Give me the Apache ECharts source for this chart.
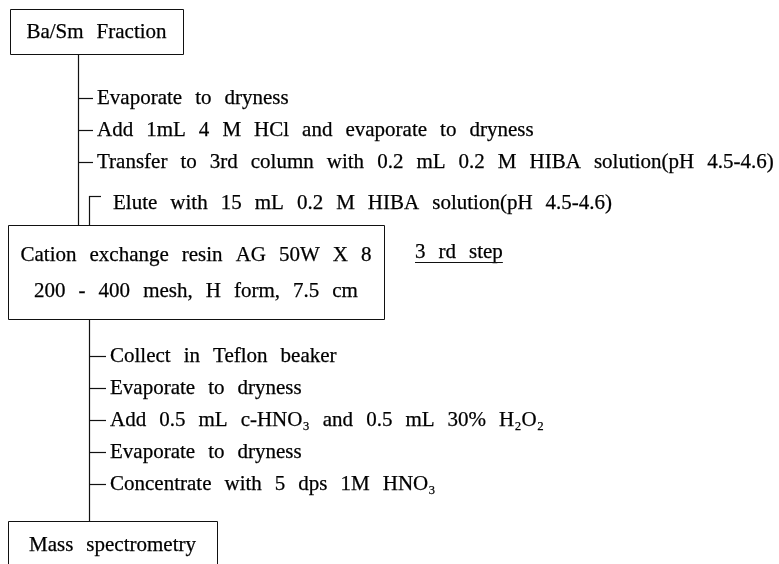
<!DOCTYPE html>
<html><head><meta charset="utf-8">
<script src="https://cdn.jsdelivr.net/npm/echarts@6/dist/echarts.min.js"></script>
<style>html,body{margin:0;padding:0;background:#fff}#c{width:779px;height:564px}</style>
</head><body><div id="c"></div>
<script>
// ---- content ----
const headBox = 'Ba/Sm Fraction';
const firstSteps = [
  'Evaporate to dryness',
  'Add 1mL 4 M HCl and evaporate to dryness',
  'Transfer to 3rd column with 0.2 mL 0.2 M HIBA solution(pH 4.5-4.6)'
];
const eluteStep = 'Elute with 15 mL 0.2 M HIBA solution(pH 4.5-4.6)';
const columnBox = ['Cation exchange resin AG 50W X 8', '200 - 400 mesh, H form, 7.5 cm'];
const stepLabel = '3 rd step';
const secondSteps = [
  'Collect in Teflon beaker',
  'Evaporate to dryness',
  'Add 0.5 mL c-HNO\u2083 and 0.5 mL 30% H\u2082O\u2082',
  'Evaporate to dryness',
  'Concentrate with 5 dps 1M HNO\u2083'
];
const finalBox = 'Mass spectrometry';

// ---- layout (axis units = pixels) ----
const FONT_FAMILY = '"Liberation Serif","Times New Roman","DejaVu Serif",serif';
const FS = 21;
const GAP = 0.62 * FS;
const L = {
  box1: {x0: 10, x1: 183, y0: 9, y1: 54, ty: 32},
  trunk1X: 78,
  steps1Y: [98, 130, 162],
  tick: 15,
  tGap: 4,
  elute: {x: 89, cornerY: 196, y: 203, tx: 113},
  box2: {x0: 8, x1: 384, y0: 225, y1: 319, ty: [255, 291]},
  label: {x: 415, y: 252},
  trunk2X: 89,
  steps2Y: [356, 388, 420, 452, 484],
  box3: {x0: 8, x1: 217, y0: 521, y1: 620, ty: 545}
};

const mctx = document.createElement('canvas').getContext('2d');
function measure(s) { mctx.font = FS + 'px ' + FONT_FAMILY; return mctx.measureText(s).width; }

function textRow(api, text, x, y, align) {
  const words = text.split(' ');
  const ws = words.map(measure);
  const total = ws.reduce((a, b) => a + b, 0) + GAP * (words.length - 1);
  const p = api.coord([x, y]);
  let cx = align === 'center' ? p[0] - total / 2 : p[0];
  const els = [];
  words.forEach((w, i) => {
    els.push({type: 'text', x: cx, y: p[1], style: {text: w, font: FS + 'px ' + FONT_FAMILY, fill: '#000', stroke: '#000', lineWidth: 0.25, align: 'left', verticalAlign: 'middle'}});
    cx += ws[i] + GAP;
  });
  return {els, total};
}
function seg(api, a, b) {
  const p = api.coord(a), q = api.coord(b);
  const v = Math.abs(p[0] - q[0]) < 0.01;
  const ox = v ? 0.5 : 0, oy = v ? 0 : 0.5;
  return {type: 'line', shape: {x1: Math.round(p[0]) + ox, y1: Math.round(p[1]) + oy, x2: Math.round(q[0]) + ox, y2: Math.round(q[1]) + oy}, style: {stroke: '#111', lineWidth: 1.2}};
}
function box(api, b) {
  const p = api.coord([b.x0, b.y0]), q = api.coord([b.x1, b.y1]);
  return {type: 'rect', shape: {x: Math.round(p[0]) + 0.5, y: Math.round(p[1]) + 0.5, width: Math.round(q[0] - p[0]), height: Math.round(q[1] - p[1])}, style: {fill: 'none', stroke: '#111', lineWidth: 1}};
}

// rows of the diagram, each drawn as one item of a custom series
const rows = [];
rows.push({kind: 'box1'});
firstSteps.forEach((t, i) => rows.push({kind: 'step1', i}));
rows.push({kind: 'elute'});
rows.push({kind: 'box2'});
rows.push({kind: 'label'});
secondSteps.forEach((t, i) => rows.push({kind: 'step2', i}));
rows.push({kind: 'box3'});

function renderItem(params, api) {
  const r = rows[params.dataIndex];
  let children = [];
  if (r.kind === 'box1') {
    children.push(box(api, L.box1));
    children = children.concat(textRow(api, headBox, (L.box1.x0 + L.box1.x1) / 2, L.box1.ty, 'center').els);
    children.push(seg(api, [L.trunk1X, L.box1.y1], [L.trunk1X, L.box2.y0]));
  } else if (r.kind === 'step1') {
    const y = L.steps1Y[r.i];
    children.push(seg(api, [L.trunk1X, y], [L.trunk1X + L.tick, y]));
    children = children.concat(textRow(api, firstSteps[r.i], L.trunk1X + L.tick + L.tGap, y, 'left').els);
  } else if (r.kind === 'elute') {
    children.push(seg(api, [L.elute.x, L.elute.cornerY], [L.elute.x, L.box2.y0]));
    children.push(seg(api, [L.elute.x, L.elute.cornerY], [L.elute.x + 12, L.elute.cornerY]));
    children = children.concat(textRow(api, eluteStep, L.elute.tx, L.elute.y, 'left').els);
  } else if (r.kind === 'box2') {
    children.push(box(api, L.box2));
    columnBox.forEach((t, i) => {
      children = children.concat(textRow(api, t, (L.box2.x0 + L.box2.x1) / 2, L.box2.ty[i], 'center').els);
    });
    children.push(seg(api, [L.trunk2X, L.box2.y1], [L.trunk2X, L.box3.y0]));
  } else if (r.kind === 'label') {
    const t = textRow(api, stepLabel, L.label.x, L.label.y, 'left');
    children = children.concat(t.els);
    const p = api.coord([L.label.x, L.label.y]);
    children.push({type: 'line', shape: {x1: p[0], y1: Math.round(p[1] + 10) + 0.5, x2: p[0] + t.total, y2: Math.round(p[1] + 10) + 0.5}, style: {stroke: '#111', lineWidth: 1}});
  } else if (r.kind === 'step2') {
    const y = L.steps2Y[r.i];
    children.push(seg(api, [L.trunk2X, y], [L.trunk2X + L.tick + 2, y]));
    children = children.concat(textRow(api, secondSteps[r.i], L.trunk2X + L.tick + L.tGap + 2, y, 'left').els);
  } else if (r.kind === 'box3') {
    children.push(box(api, L.box3));
    children = children.concat(textRow(api, finalBox, (L.box3.x0 + L.box3.x1) / 2, L.box3.ty, 'center').els);
  }
  return {type: 'group', children};
}

const chart = echarts.init(document.getElementById('c'), null, {renderer: 'canvas'});
chart.setOption({
  backgroundColor: '#fff',
  animation: false,
  grid: {left: 0, right: 0, top: 0, bottom: 0},
  xAxis: {type: 'value', min: 0, max: 779, show: false},
  yAxis: {type: 'value', min: 0, max: 564, inverse: true, show: false},
  series: [{
    type: 'custom',
    coordinateSystem: 'cartesian2d',
    renderItem,
    clip: false,
    data: rows.map((r, i) => [i, 0])
  }]
});
</script></body></html>
